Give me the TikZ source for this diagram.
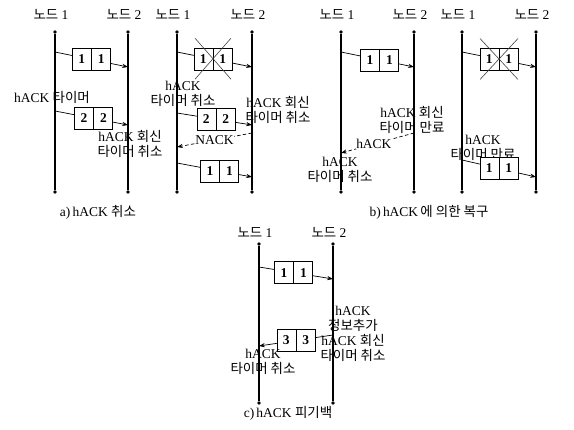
\documentclass[tikz,border=0pt]{standalone}
\usepackage{fontspec}
\setmainfont{Liberation Serif}
\newfontfamily\krfont{Noto Sans CJK KR}
\newcommand{\ko}[1]{{\krfont #1}}
\usepackage{tikz}
\usetikzlibrary{arrows.meta, shapes.multipart}

\tikzset{
  lifeline/.style={line width=0.9pt},
  enddot/.style={circle, fill, inner sep=0pt, minimum size=3.2pt},
  pkt/.style={rectangle split, rectangle split horizontal, rectangle split parts=2,
    draw, fill=white, minimum height=0.66cm, inner xsep=1.3mm, inner ysep=0pt, solid,
    font=\fontsize{11.5}{12}\selectfont\bfseries},
  msg/.style={line width=0.6pt, -{Stealth[length=5pt,width=3.6pt]}},
  fb/.style={msg, dash pattern=on 3pt off 2pt},
  lost/.style={line width=0.5pt, black!75},
  lbl/.style={align=center, inner sep=0pt},
}
\newcommand{\pktnum}[2]{\makebox[3mm]{#1}\nodepart{two}\makebox[3mm]{#2}}

\begin{document}
\begin{tikzpicture}[x=0.03cm, y=-0.03cm, font=\fontsize{11.5}{12.8}\selectfont]
\useasboundingbox (0,0) rectangle (574,430);

% lifelines of the four upper pictures and of c)
\foreach \n/\xa/\xb/\yt/\yb/\yl in {a/55/128/32/192/14, b/177/252/32/192/14,
    c/341/414/32/192/14, d/462/536/32/192/14, e/259/333/244/403/232} {
  \node[enddot] (\n1t) at (\xa,\yt) {};
  \node[enddot] (\n1b) at (\xa,\yb) {};
  \node[enddot] (\n2t) at (\xb,\yt) {};
  \node[enddot] (\n2b) at (\xb,\yb) {};
  \draw[lifeline] (\n1t) -- (\n1b);
  \draw[lifeline] (\n2t) -- (\n2b);
  \node (\n1l) at (\xa-4,\yl) {\ko{노드} 1};
  \node (\n2l) at (\xb-4,\yl) {\ko{노드} 2};
}

% a) hACK cancel, left
\coordinate (a-s1) at (55,52);  \coordinate (a-r1) at (128,67);
\coordinate (a-s2) at (55,111); \coordinate (a-r2) at (128,125);
\draw[msg] (a-s1) -- node[pkt] (a-p1) {\pktnum{1}{1}} (a-r1);
\draw[msg] (a-s2) -- node[pkt, pos=0.53] (a-p2) {\pktnum{2}{2}} (a-r2);
\node[lbl] (a-t1) at (52,97) {hACK \ko{타이머}};
\node[lbl] (a-t2) at (130,144) {hACK \ko{회신}\\\ko{타이머 취소}};

% a) hACK cancel, right
\coordinate (b-s1) at (177,52);  \coordinate (b-r1) at (252,67);
\coordinate (b-s2) at (177,113); \coordinate (b-r2) at (252,125);
\coordinate (b-s3) at (252,133); \coordinate (b-r3) at (177,147);
\coordinate (b-s4) at (177,163); \coordinate (b-r4) at (252,177);
\draw[msg] (b-s1) -- node[pkt, pos=0.48] (b-p1) {\pktnum{1}{1}} (b-r1);
\draw[lost] ([shift={(-18,-21)}]b-p1.center) -- ([shift={(18,20)}]b-p1.center);
\draw[lost] ([shift={(18,-21)}]b-p1.center) -- ([shift={(-18,20)}]b-p1.center);
\node[lbl] (b-t1) at (183,94) {hACK\\\ko{타이머 취소}};
\draw[msg] (b-s2) -- node[pkt, pos=0.52] (b-p2) {\pktnum{2}{2}} (b-r2);
\node[lbl] (b-t2) at (278,110) {hACK \ko{회신}\\\ko{타이머 취소}};
\draw[fb] (b-s3) -- node[fill=white, inner sep=0.5pt] (b-n) {NACK} (b-r3);
\draw[msg] (b-s4) -- node[pkt, pos=0.57] (b-p4) {\pktnum{1}{1}} (b-r4);

% b) recovery by hACK, left
\coordinate (c-s1) at (341,52);  \coordinate (c-r1) at (414,67);
\coordinate (c-s2) at (414,133); \coordinate (c-r2) at (341,153);
\draw[msg] (c-s1) -- node[pkt, pos=0.53] (c-p1) {\pktnum{1}{1}} (c-r1);
\node[lbl] (c-t1) at (412,120) {hACK \ko{회신}\\\ko{타이머 만료}};
\draw[fb] (c-s2) -- node[fill=white, inner sep=0.5pt, pos=0.55] (c-h) {hACK} (c-r2);
\node[lbl] (c-t2) at (340,170) {hACK\\\ko{타이머 취소}};

% b) recovery by hACK, right
\coordinate (d-s1) at (462,52);  \coordinate (d-r1) at (536,67);
\coordinate (d-s2) at (462,160); \coordinate (d-r2) at (536,177);
\draw[msg] (d-s1) -- node[pkt] (d-p1) {\pktnum{1}{1}} (d-r1);
\draw[lost] ([shift={(-19,-21)}]d-p1.center) -- ([shift={(19,20)}]d-p1.center);
\draw[lost] ([shift={(19,-21)}]d-p1.center) -- ([shift={(-19,20)}]d-p1.center);
\node[lbl] (d-t1) at (483,148) {hACK\\\ko{타이머 만료}};
\draw[msg] (d-s2) -- node[pkt] (d-p2) {\pktnum{1}{1}} (d-r2);

% c) hACK piggyback
\coordinate (e-s1) at (259,267); \coordinate (e-r1) at (333,279);
\coordinate (e-s2) at (333,335); \coordinate (e-r2) at (259,346);
\draw[msg] (e-s1) -- node[pkt, pos=0.47] (e-p1) {\pktnum{1}{1}} (e-r1);
\node[lbl] (e-t1) at (353,334) {hACK\\\ko{정보추가}\\hACK \ko{회신}\\\ko{타이머 취소}};
\draw[msg] (e-s2) -- node[pkt] (e-p2) {\pktnum{3}{3}} (e-r2);
\node[lbl] (e-t2) at (263,362) {hACK\\\ko{타이머 취소}};

% captions
\node (capa) at (98,212) {a)\,hACK \ko{취소}};
\node (capb) at (429,212) {b)\,hACK\,\ko{에 의한 복구}};
\node (capc) at (288,413) {c)\,hACK \ko{피기백}};
\end{tikzpicture}
\end{document}
